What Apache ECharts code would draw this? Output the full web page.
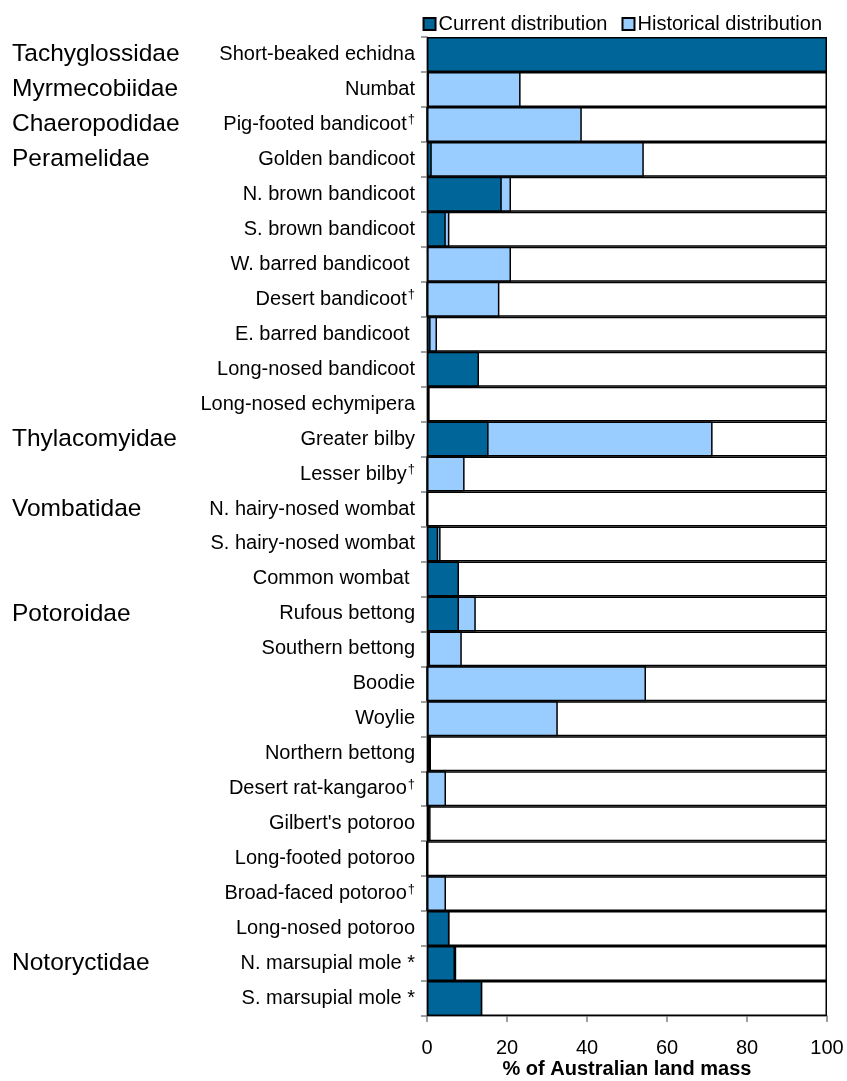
<!DOCTYPE html>
<html>
<head>
<meta charset="utf-8">
<script src="https://cdn.jsdelivr.net/npm/echarts@6/dist/echarts.min.js"></script>
<style>
    html, body { margin: 0; padding: 0; background: #fff; }
    #main { width: 847px; height: 1081px; }
</style>
</head>
<body>
<div id="main"></div>
<script>
var species = ['Short-beaked echidna', 'Numbat', 'Pig-footed bandicoot†', 'Golden bandicoot',
    'N. brown bandicoot', 'S. brown bandicoot', 'W. barred bandicoot ', 'Desert bandicoot†',
    'E. barred bandicoot ', 'Long-nosed bandicoot', 'Long-nosed echymipera', 'Greater bilby',
    'Lesser bilby†', 'N. hairy-nosed wombat', 'S. hairy-nosed wombat', 'Common wombat ',
    'Rufous bettong', 'Southern bettong', 'Boodie', 'Woylie', 'Northern bettong',
    'Desert rat-kangaroo†', "Gilbert's potoroo", 'Long-footed potoroo', 'Broad-faced potoroo†',
    'Long-nosed potoroo', 'N. marsupial mole *', 'S. marsupial mole *'];

var families = ['Tachyglossidae', 'Myrmecobiidae', 'Chaeropodidae', 'Peramelidae',
    '', '', '', '', '', '', '', 'Thylacomyidae', '', 'Vombatidae', '', '',
    'Potoroidae', '', '', '', '', '', '', '', '', '', 'Notoryctidae', ''];

// % of land mass, current range
var current = [100, 0.5, 0, 1.2, 18.7, 4.7, 0.3, 0, 0.9, 13, 0.6, 15.4, 0, 0.1,
    2.8, 8, 8, 0.75, 0, 0.4, 0.75, 0, 0.5, 0, 0, 5.6, 7, 13.8];

// % of land mass, historical range (full extent)
var historical = [100, 23.4, 38.7, 54.2, 21, 5.6, 21, 18.1, 2.5, 13, 0.6, 71.4, 9.4, 0.1,
    3.4, 8, 12.2, 8.7, 54.75, 32.7, 1, 4.75, 0.9, 0, 4.75, 5.6, 7.3, 13.8];

var xTicks = [0, 20, 40, 60, 80, 100];

var font = 'Liberation Sans, Arial, sans-serif';

var myChart = echarts.init(document.getElementById('main'));

var box = species.map(function () { return 100; });

var option = {
    animation: false,
    textStyle: { fontFamily: font },
    legend: {
        data: ['Current distribution', 'Historical distribution'],
        right: 20,
        top: 9,
        icon: 'rect',
        itemWidth: 12,
        itemHeight: 12,
        itemGap: 14,
        textStyle: { fontSize: 20, color: '#000', fontFamily: font, padding: [0, 0, 0, -2] }
    },
    grid: { left: 427, right: 20, top: 37, bottom: 65, outerBoundsMode: 'none', containLabel: false },
    xAxis: {
        type: 'value',
        min: xTicks[0],
        max: xTicks[xTicks.length - 1],
        interval: 20,
        name: '% of Australian land mass',
        nameLocation: 'middle',
        nameGap: 43,
        nameMoveOverlap: false,
        nameTextStyle: { fontSize: 20, fontWeight: 'bold', color: '#000', fontFamily: font },
        axisLine: { show: true, lineStyle: { color: '#808080', width: 1.5 } },
        axisTick: { show: true, length: 6, lineStyle: { color: '#808080', width: 1.5 } },
        axisLabel: { fontSize: 20, color: '#000', margin: 22, fontFamily: font },
        splitLine: { show: false }
    },
    yAxis: [
        {
            type: 'category',
            data: species,
            inverse: true,
            axisLine: { show: true, lineStyle: { color: '#808080', width: 1.5 } },
            axisTick: { show: true, length: 6, lineStyle: { color: '#808080', width: 1.5 } },
            axisLabel: {
                fontSize: 20,
                color: '#000',
                margin: 12,
                fontFamily: font,
                formatter: function (v) {
                    if (v.charAt(v.length - 1) === '†') {
                        return v.slice(0, -1) + '{sup|†}';
                    }
                    return v;
                },
                rich: {
                    sup: { fontSize: 13, color: '#000', fontFamily: font, padding: [0, 0, 9, 1] }
                }
            }
        },
        {
            type: 'category',
            data: families,
            inverse: true,
            position: 'left',
            axisLine: { show: false },
            axisTick: { show: false },
            axisLabel: {
                fontSize: 24.5,
                color: '#000',
                align: 'left',
                margin: 415,
                fontFamily: font
            }
        }
    ],
    series: [
        {
            name: 'box',
            type: 'bar',
            silent: true,
            data: box,
            barWidth: '100%',
            barGap: '-100%',
            itemStyle: { color: '#fff', borderColor: '#000', borderWidth: 1.5 }
        },
        {
            name: 'Historical distribution',
            type: 'bar',
            data: historical,
            barWidth: '100%',
            barGap: '-100%',
            itemStyle: { color: '#99CCFF', borderColor: '#000', borderWidth: 1.5 }
        },
        {
            name: 'Current distribution',
            type: 'bar',
            data: current,
            barWidth: '100%',
            barGap: '-100%',
            itemStyle: { color: '#006699', borderColor: '#000', borderWidth: 1.5 }
        }
    ]
};

myChart.setOption(option);
</script>
</body>
</html>
